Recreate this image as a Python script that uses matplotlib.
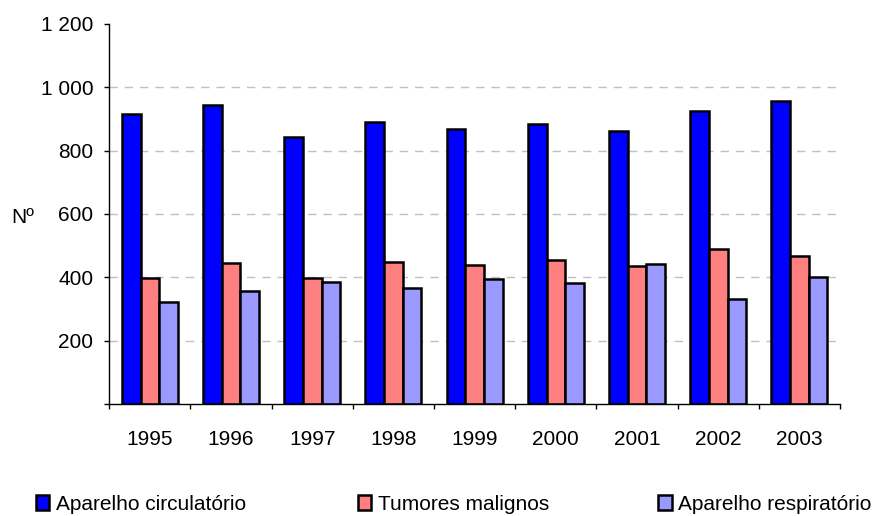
import numpy as np
import matplotlib.pyplot as plt
from matplotlib.patches import Patch
from matplotlib.ticker import FuncFormatter, MultipleLocator

plt.rcParams['font.family'] = ['Liberation Sans', 'DejaVu Sans']

anos = ['1995', '1996', '1997', '1998', '1999', '2000', '2001', '2002', '2003']
circulatorio = [915, 944, 843, 890, 868, 885, 863, 924, 955]
tumores = [399, 445, 397, 447, 438, 453, 437, 488, 467]
respiratorio = [321, 356, 385, 367, 395, 382, 442, 330, 400]

series = [
    ('Aparelho circulatório', circulatorio, '#0000ff'),
    ('Tumores malignos', tumores, '#ff8080'),
    ('Aparelho respiratório', respiratorio, '#9999ff'),
]

fig = plt.figure(figsize=(8.73, 5.16), dpi=100)
ax = fig.add_axes([0.1252, 0.217, 0.837, 0.737])

x = np.arange(len(anos))
w = 0.23
for i, (nome, vals, cor) in enumerate(series):
    ax.bar(x + (i - 1) * w, vals, w, color=cor, edgecolor='black',
           linewidth=1.8, zorder=3)

ax.set_xlim(-0.5, len(anos) - 0.5)
ax.set_ylim(0, 1200)
ax.yaxis.set_major_locator(MultipleLocator(200))
# sem rótulo no zero, separador de milhares com espaço
ax.yaxis.set_major_formatter(
    FuncFormatter(lambda v, p: '' if v == 0 else f'{int(v):,}'.replace(',', ' ')))

ax.set_xticks(x)
ax.set_xticklabels(anos)
ax.set_xticks(np.arange(-0.5, len(anos)), minor=True)
ax.tick_params(axis='x', which='major', length=0, pad=19, labelsize=15)
ax.tick_params(axis='x', which='minor', length=3.6, direction='out', width=1)
ax.tick_params(axis='y', length=3.6, direction='out', width=1, labelsize=15, pad=8)

for v in range(200, 1200, 200):
    ax.axhline(v, color='#c0c0c0', linestyle=(0, (6, 5)), linewidth=1, zorder=1)

for s in ['top', 'right']:
    ax.spines[s].set_visible(False)
for s in ['left', 'bottom']:
    ax.spines[s].set_linewidth(1)
    ax.spines[s].set_zorder(4)

ax.set_ylabel('Nº', rotation=0, fontsize=15, va='center', ha='center')
ax.yaxis.set_label_coords(-0.118, 0.49)

# legenda em baixo, três entradas separadas
posicoes = [0.041, 0.410, 0.754]
for (nome, vals, cor), px in zip(series, posicoes):
    fig.legend(handles=[Patch(facecolor=cor, edgecolor='black', linewidth=1.8, label=nome)],
               loc='center left', bbox_to_anchor=(px, 1 - 504 / 516),
               frameon=False, fontsize=15, borderpad=0, borderaxespad=0,
               handlelength=0.65, handleheight=0.7, handletextpad=0.3)

fig.savefig('out.png', dpi=100)
